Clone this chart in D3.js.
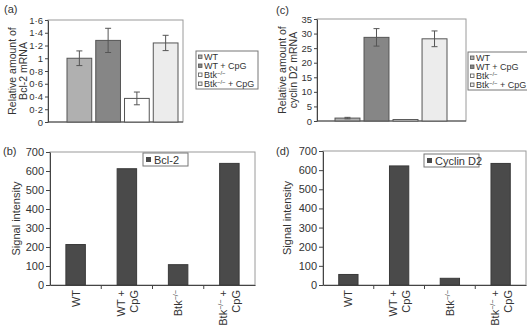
<!DOCTYPE html>
<html>
<head>
<meta charset="utf-8">
<script src="https://cdn.jsdelivr.net/npm/d3@7"></script>
<style>
  body { margin: 0; background: #fff; }
  svg { font-family: "Liberation Sans", Arial, sans-serif; }
</style>
</head>
<body>
<svg id="chart" width="527" height="327"></svg>
<script>
// groups shared by all panels
const groups = ['WT', 'WT + CpG', 'Btk-/-', 'Btk-/- + CpG']
const groupColors = ['#b0b0b0', '#868686', '#ffffff', '#ececec']

// (a) Bcl-2 mRNA
const bclMrna = [1.0, 1.28, 0.37, 1.24]
const bclMrnaErr = [0.115, 0.19, 0.1, 0.12]
const bclMrnaTicks = [0, 0.2, 0.4, 0.6, 0.8, 1, 1.2, 1.4, 1.6]

// (c) cyclin D2 mRNA
const cycMrna = [1.0, 28.7, 0.5, 28.2]
const cycMrnaErr = [0.25, 3.0, 0, 2.7]
const cycMrnaTicks = [0, 5, 10, 15, 20, 25, 30, 35]

// (b) and (d) signal intensity
const bclSignal = [213, 612, 107, 640]
const cycSignal = [55, 622, 35, 635]
const signalTicks = [0, 100, 200, 300, 400, 500, 600, 700]

const svg = d3.select('#chart')
const dotFmt = d => d === 0 ? '0' : String(d).replace('.', '·')

// write "Btk-/-" with a raised -/-
let addGroupText = function (sel, name) {
  if (name.startsWith('Btk')) {
    sel.append('tspan').text('Btk')
    sel.append('tspan').text('−/−').attr('font-size', '0.65em').attr('baseline-shift', 'super')
    sel.append('tspan').text(name.slice(6))
  } else {
    sel.append('tspan').text(name)
  }
}

let drawMrnaPanel = function (opt) {
  let g = svg.append('g')
  let y = d3.scaleLinear().domain(opt.domain).range([opt.bottom, opt.top])
  let x = d3.scaleBand().domain(groups).range(opt.barRange).paddingInner(0.14)

  // plot box
  g.append('rect')
    .attr('x', opt.left).attr('y', opt.top)
    .attr('width', opt.right - opt.left).attr('height', opt.bottom - opt.top)
    .attr('fill', 'none').attr('stroke', '#9a9a9a').attr('stroke-width', 1)

  let ax = g.append('g')
    .attr('transform', `translate(${opt.left},0)`)
    .call(d3.axisLeft(y).tickValues(opt.ticks).tickFormat(opt.fmt).tickSize(3).tickPadding(2).tickSizeOuter(0))
  ax.selectAll('text').attr('font-size', 9.5).attr('fill', '#333')
  ax.selectAll('line, path').attr('stroke', '#444')

  g.append('line')
    .attr('x1', opt.left).attr('x2', opt.right)
    .attr('y1', y(0)).attr('y2', y(0))
    .attr('stroke', '#444')

  g.selectAll('.bar')
    .data(opt.values)
    .enter()
    .append('rect')
    .attr('x', (d, i) => x(groups[i]))
    .attr('y', d => y(d))
    .attr('width', x.bandwidth())
    .attr('height', d => y(0) - y(d))
    .attr('fill', (d, i) => groupColors[i])
    .attr('stroke', '#555')
    .attr('stroke-width', 1)

  // error bars
  opt.values.forEach((v, i) => {
    let e = opt.errors[i]
    if (!e) return
    let cx = x(groups[i]) + x.bandwidth() / 2
    g.append('line').attr('x1', cx).attr('x2', cx).attr('y1', y(v - e)).attr('y2', y(v + e)).attr('stroke', '#555')
    ;[v - e, v + e].forEach(t => {
      g.append('line').attr('x1', cx - 3).attr('x2', cx + 3).attr('y1', y(t)).attr('y2', y(t)).attr('stroke', '#555')
    })
  })

  // y title on two lines
  opt.yTitle.forEach((t, i) => {
    g.append('text')
      .attr('transform', `translate(${opt.titleX[i]},${(opt.top + opt.bottom) / 2}) rotate(-90)`)
      .attr('text-anchor', 'middle')
      .attr('font-size', 10.5).attr('fill', '#333')
      .text(t)
  })

  g.append('text').attr('x', opt.tag[0]).attr('y', opt.tag[1]).attr('font-size', 11).attr('fill', '#333').text(opt.tagText)

  // legend
  let lg = g.append('g').attr('transform', `translate(${opt.legend[0]},${opt.legend[1]})`)
  lg.append('rect').attr('width', opt.legend[2]).attr('height', 38)
    .attr('fill', '#fff').attr('stroke', '#777')
  groups.forEach((name, i) => {
    lg.append('rect').attr('x', 2.5).attr('y', 4 + i * 9).attr('width', 3.5).attr('height', 3.5)
      .attr('fill', groupColors[i]).attr('stroke', '#555').attr('stroke-width', 0.8)
    let t = lg.append('text').attr('x', 8).attr('y', 9 + i * 9).attr('font-size', 9).attr('fill', '#333')
    addGroupText(t, name)
  })
}

let drawSignalPanel = function (opt) {
  let g = svg.append('g')
  let y = d3.scaleLinear().domain([0, 700]).range([opt.bottom, opt.top])
  let x = d3.scaleBand().domain(groups).range([opt.left, opt.right]).paddingInner(0.62).paddingOuter(0.31)

  g.append('rect')
    .attr('x', opt.left).attr('y', opt.top)
    .attr('width', opt.right - opt.left).attr('height', opt.bottom - opt.top)
    .attr('fill', 'none').attr('stroke', '#9a9a9a')

  let ax = g.append('g')
    .attr('transform', `translate(${opt.left},0)`)
    .call(d3.axisLeft(y).tickValues(signalTicks).tickSize(4).tickPadding(2).tickSizeOuter(0))
  ax.selectAll('text').attr('font-size', 11).attr('fill', '#333')
  ax.selectAll('line, path').attr('stroke', '#444')

  // category separators on the baseline
  let xa = g.append('g')
    .attr('transform', `translate(0,${opt.bottom})`)
    .call(d3.axisBottom(x).tickSize(0).tickFormat(''))
  xa.select('.domain').attr('stroke', '#444')
  groups.slice(1).forEach(name => {
    let px = x(name) - x.step() * x.paddingInner() / 2
    g.append('line').attr('x1', px).attr('x2', px).attr('y1', opt.bottom).attr('y2', opt.bottom + 4).attr('stroke', '#444')
  })

  g.selectAll('.bar')
    .data(opt.values)
    .enter()
    .append('rect')
    .attr('x', (d, i) => x(groups[i]))
    .attr('y', d => y(d))
    .attr('width', x.bandwidth())
    .attr('height', d => y(0) - y(d))
    .attr('fill', '#4a4a4a')
    .attr('stroke', '#3a3a3a')

  // rotated group labels
  groups.forEach(name => {
    let cx = x(name) + x.bandwidth() / 2
    let parts = name.includes('+') ? [name.split(' + ')[0] + ' +', 'CpG'] : [name]
    parts.forEach((p, k) => {
      let off = parts.length === 1 ? 4 : (k === 0 ? -2 : 11)
      let t = g.append('text')
        .attr('transform', `translate(${cx + off},${opt.bottom + 5}) rotate(-90)`)
        .attr('text-anchor', 'end')
        .attr('font-size', 11).attr('fill', '#333')
      addGroupText(t, p)
    })
  })

  g.append('text')
    .attr('transform', `translate(${opt.titleX},${(opt.top + opt.bottom) / 2}) rotate(-90)`)
    .attr('text-anchor', 'middle').attr('font-size', 11).attr('fill', '#333')
    .text('Signal intensity')

  g.append('text').attr('x', opt.tag[0]).attr('y', opt.tag[1]).attr('font-size', 11).attr('fill', '#333').text(opt.tagText)

  let lg = g.append('g').attr('transform', `translate(${opt.legend[0]},${opt.legend[1]})`)
  lg.append('rect').attr('width', opt.legend[2]).attr('height', 13).attr('fill', '#fff').attr('stroke', '#777')
  lg.append('rect').attr('x', 3).attr('y', 4).attr('width', 5).attr('height', 5).attr('fill', '#4a4a4a')
  lg.append('text').attr('x', 11).attr('y', 10.5).attr('font-size', 11).attr('fill', '#333').text(opt.legendText)
}

drawMrnaPanel({
  values: bclMrna, errors: bclMrnaErr, ticks: bclMrnaTicks, domain: [0, 1.6], fmt: dotFmt,
  left: 48, right: 183, top: 20, bottom: 122, barRange: [67, 178],
  yTitle: ['Relative amount of', 'Bcl-2 mRNA'], titleX: [16, 27],
  tag: [4, 13], tagText: '(a)', legend: [196, 51, 62]
})

drawMrnaPanel({
  values: cycMrna, errors: cycMrnaErr, ticks: cycMrnaTicks, domain: [0, 35], fmt: d => d,
  left: 317, right: 466, top: 19, bottom: 121, barRange: [335, 447],
  yTitle: ['Relative amount of', 'cyclin D2 mRNA'], titleX: [286, 297],
  tag: [276, 14], tagText: '(c)', legend: [468, 52, 62]
})

drawSignalPanel({
  values: bclSignal, left: 50, right: 255, top: 152, bottom: 285,
  titleX: 20, tag: [3, 155], tagText: '(b)', legend: [143, 153, 45], legendText: 'Bcl-2'
})

drawSignalPanel({
  values: cycSignal, left: 323, right: 526, top: 151, bottom: 285,
  titleX: 291, tag: [276, 155], tagText: '(d)', legend: [424, 154, 55], legendText: 'Cyclin D2'
})
</script>
</body>
</html>
